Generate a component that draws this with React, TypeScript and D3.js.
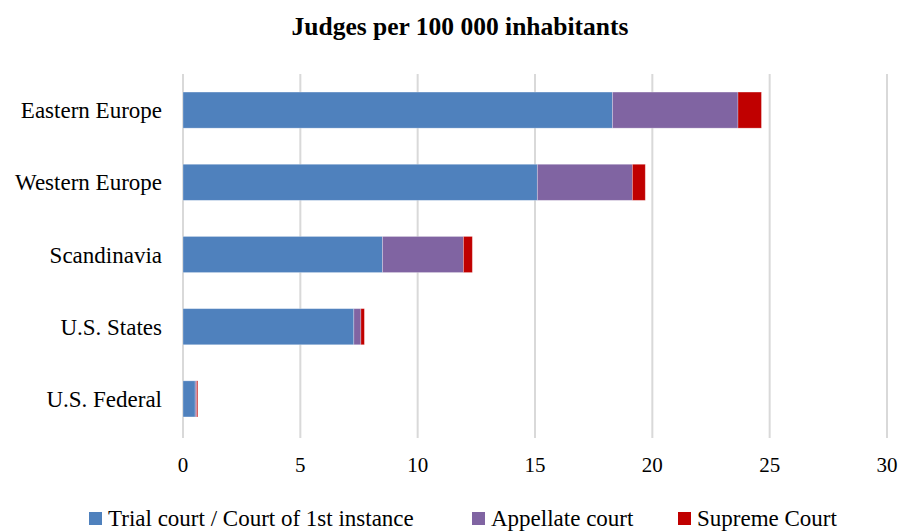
import * as d3 from 'd3';

const categories = ['Eastern Europe', 'Western Europe', 'Scandinavia', 'U.S. States', 'U.S. Federal'];
const trialCourt = [18.3, 15.1, 8.5, 7.28, 0.52];
const appellateCourt = [5.35, 4.05, 3.45, 0.3, 0.06];
const supremeCourt = [1.0, 0.55, 0.38, 0.15, 0.05];
const seriesNames = ['Trial court / Court of 1st instance', 'Appellate court', 'Supreme Court'];
const seriesColors = ['#4f81bd', '#8064a2', '#c00000'];
const xTicks = [0, 5, 10, 15, 20, 25, 30];

const width = 901;
const height = 531;
const margin = { top: 74, right: 14, bottom: 96, left: 183 };
const font = '"Liberation Serif", "Times New Roman", serif';

const App = () => {
  const rows = categories.map((c, i) => ({
    category: c,
    s0: trialCourt[i],
    s1: appellateCourt[i],
    s2: supremeCourt[i],
  }));
  const stack = d3.stack<any>().keys(['s0', 's1', 's2'])(rows);

  const xScale = d3.scaleLinear([0, 30], [margin.left, width - margin.right]);
  const yScale = d3.scaleBand(categories, [margin.top, height - margin.bottom]).paddingInner(0.5).paddingOuter(0.25);

  const legendX = [89, 472, 678];

  return (
    <svg width={width} height={height} style={{ position: 'absolute', left: 0, top: 0 }} fontFamily={font}>
      <rect width={width} height={height} fill="#fff" />
      <text x={460} y={35} textAnchor="middle" fontSize={25.5} fontWeight="bold" fill="#000">
        Judges per 100 000 inhabitants
      </text>
      {xTicks.map((t) => (
        <g key={t}>
          <line x1={xScale(t)} x2={xScale(t)} y1={margin.top} y2={height - margin.bottom + 3} stroke="#d9d9d9" strokeWidth={2} />
          <text x={xScale(t)} y={472} textAnchor="middle" fontSize={21} fill="#000">
            {t}
          </text>
        </g>
      ))}
      {stack.map((layer, si) => (
        <g key={si} fill={seriesColors[si]}>
          {layer.map((d, i) => (
            <rect
              key={i}
              x={xScale(d[0])}
              y={yScale(categories[i])}
              width={Math.max(0, xScale(d[1]) - xScale(d[0]))}
              height={yScale.bandwidth()}
              stroke="rgba(255,255,255,0.35)"
              strokeWidth={0.8}
            />
          ))}
        </g>
      ))}
      {categories.map((c) => (
        <text
          key={c}
          x={162}
          y={(yScale(c) ?? 0) + yScale.bandwidth() / 2}
          dy="0.35em"
          textAnchor="end"
          fontSize={23}
          fill="#000"
        >
          {c}
        </text>
      ))}
      {seriesNames.map((n, i) => (
        <g key={n}>
          <rect x={legendX[i]} y={512} width={13} height={13} fill={seriesColors[i]} />
          <text x={legendX[i] + 19} y={526} fontSize={23} fill="#000">
            {n}
          </text>
        </g>
      ))}
    </svg>
  );
};

export default App;
